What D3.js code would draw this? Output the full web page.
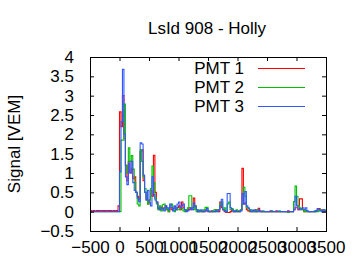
<!DOCTYPE html>
<html>
<head>
<meta charset="utf-8">
<script src="https://cdn.jsdelivr.net/npm/d3@7"></script>
<style>
  body { margin: 0; background: #fff; }
  text { font-family: 'Liberation Sans', Arial, sans-serif; fill: #000; }
</style>
</head>
<body>
<div id="chart"></div>
<script>
// trace bins, 25 ns wide, starting at -500 ns
const binStart = -500;
const binWidth = 25;

// PMT 1, one row per 500 ns
const pmt1 = [
  0.03, 0.01, 0.03, 0.01, 0.03, 0.02, 0.03, 0.01, 0.03, 0.02, 0.03, 0.01, 0.03, 0.02, 0.03, 0.01, 0.03, 0.02, 0.03, 0.15,
  2.58, 2.2, 3.0, 1.9, 1.2, 0.8, 1.3, 1.0, 1.1, 0.85, 0.9, 0.5, 0.4, 0.3, 1.55, 1.6, 0.8, 0.5, 0.3, 0.2,
  0.3, 0.55, 0.4, 1.46, 0.5, 0.25, 0.08, 0.05, 0.12, 0.05, 0.1, 0.15, 0.05, 0.0, 0.1, 0.05, 0.08, 0.12, 0.05, 0.1,
  0.15, 0.05, 0.25, 0.1, 0.05, 0.03, 0.05, 0.1, 0.05, 0.1, 0.35, 0.15, 0.05, 0.0, 0.03, 0.0, 0.02, 0.0, 0.05, 0.02,
  0.0, 0.0, 0.02, 0.0, 0.0, 0.05, 0.02, 0.0, 0.25, 0.1, 0.05, 0.0, -0.02, -0.02, -0.02, 0.0, 0.05, 0.0, 0.0, 0.03,
  0.0, 0.02, 0.05, 1.12, 0.2, 0.22, 0.05, 0.02, 0.0, 0.0, 0.02, 0.0, 0.05, 0.0, 0.09, 0.02, 0.0, 0.0, 0.0, 0.0,
  0.0, 0.0, 0.02, 0.0, 0.0, 0.0, 0.02, 0.0, 0.0, 0.0, 0.0, 0.0, 0.0, 0.0, 0.02, 0.0, 0.0, 0.0, 0.05, 0.1,
  0.1, 0.05, 0.33, 0.33, 0.05, 0.0, 0.02, 0.0, 0.0, 0.0, 0.0, 0.0, 0.0, 0.02, 0.05, 0.08, 0.03, 0.05, 0.0, 0.02,
];

// PMT 2
const pmt2 = [
  0.0, 0.0, 0.0, 0.0, 0.0, 0.0, 0.0, 0.0, 0.0, 0.0, 0.0, 0.0, 0.0, 0.0, 0.0, 0.0, 0.0, 0.0, 0.0, 0.0,
  0.0, 1.85, 1.85, 2.78, 1.2, 1.0, 1.65, 1.3, 1.45, 1.1, 0.75, 0.5, 0.2, 0.15, 1.6, 1.3, 0.9, 0.6, 0.35, 0.2,
  0.3, 0.6, 1.18, 0.75, 0.35, 0.2, 0.05, 0.15, 0.02, 0.18, 0.2, 0.05, 0.1, 0.0, 0.15, 0.2, 0.05, 0.0, 0.1, 0.05,
  0.05, 0.1, 0.08, 0.02, 0.0, 0.05, 0.1, 0.41, 0.41, 0.1, 0.05, 0.15, 0.0, 0.05, 0.0, 0.02, 0.0, 0.05, 0.11, 0.11,
  0.02, 0.0, 0.0, 0.02, 0.05, 0.0, 0.05, 0.05, 0.2, 0.25, 0.05, 0.1, 0.0, 0.2, 0.25, 0.05, 0.08, 0.02, 0.0, 0.05,
  0.02, 0.0, 0.05, 0.2, 0.63, 0.4, 0.1, 0.08, 0.02, 0.05, 0.0, 0.02, 0.0, 0.05, 0.02, 0.0, 0.0, 0.02, 0.0, 0.0,
  0.0, 0.0, 0.0, 0.02, 0.0, 0.0, 0.0, 0.0, 0.02, 0.0, 0.0, 0.0, 0.0, 0.0, -0.02, 0.0, 0.0, 0.0, 0.26, 0.66,
  0.4, 0.15, 0.1, 0.05, 0.05, 0.0, 0.02, 0.0, 0.0, 0.0, 0.0, 0.0, 0.02, 0.0, 0.0, 0.02, 0.05, 0.0, 0.02, 0.05,
];

// PMT 3
const pmt3 = [
  0.0, 0.0, 0.0, 0.0, 0.0, 0.0, 0.0, 0.0, 0.0, 0.0, 0.0, 0.0, 0.0, 0.0, 0.0, 0.0, 0.0, 0.0, 0.0, 0.0,
  1.03, 2.33, 3.68, 2.0, 0.9, 0.7, 1.25, 1.0, 1.3, 0.75, 0.55, 0.5, 0.35, 0.25, 1.78, 1.75, 0.95, 0.5, 0.3, 0.55,
  0.25, 0.15, 0.9, 0.45, 0.3, 0.25, 0.1, 0.05, 0.1, 0.08, 0.02, 0.15, 0.1, 0.05, 0.2, 0.1, 0.02, 0.15, 0.05, 0.2,
  0.25, 0.1, 0.15, 0.2, 0.05, 0.0, 0.02, 0.05, 0.1, 0.05, 0.22, 0.12, 0.05, 0.0, 0.02, 0.05, 0.0, 0.0, 0.02, 0.08,
  0.0, 0.0, 0.0, 0.0, 0.0, 0.02, 0.0, 0.05, 0.15, 0.32, 0.05, 0.02, 0.0, 0.47, 0.47, 0.1, 0.05, 0.0, 0.02, 0.0,
  0.0, 0.0, 0.02, 0.47, 0.2, 0.52, 0.15, 0.1, 0.05, 0.0, 0.02, 0.05, 0.0, 0.0, 0.05, 0.0, 0.0, 0.0, 0.0, 0.0,
  0.0, 0.0, 0.0, 0.0, 0.0, 0.0, 0.0, 0.0, 0.0, 0.0, 0.0, 0.0, 0.0, 0.0, 0.0, 0.0, 0.0, 0.0, 0.05, 0.4,
  0.15, 0.05, 0.05, 0.08, 0.1, 0.05, 0.1, 0.02, 0.0, 0.0, 0.0, 0.0, 0.0, 0.02, 0.08, 0.05, 0.02, 0.0, 0.05, 0.0,
];

const seriesNames = ['PMT 1', 'PMT 2', 'PMT 3'];
const seriesColors = ['#ff0000', '#00c000', '#3058ff'];
const xTicks = [-500, 0, 500, 1000, 1500, 2000, 2500, 3000, 3500];
const yTicks = [-0.5, 0, 0.5, 1, 1.5, 2, 2.5, 3, 3.5, 4];
const title = 'LsId 908 - Holly';
const yTitle = 'Signal [VEM]';

const width = 360;
const height = 270;
const margin = { top: 57, right: 34, bottom: 39, left: 90 };

const svg = d3.select('#chart').append('svg')
  .attr('width', width)
  .attr('height', height);

const x = d3.scaleLinear().domain([-500, 3500]).range([margin.left, width - margin.right]);
const y = d3.scaleLinear().domain([-0.5, 4]).range([height - margin.bottom, margin.top]);

svg.append('clipPath').attr('id', 'plotClip')
  .append('rect')
  .attr('x', margin.left).attr('y', margin.top)
  .attr('width', x.range()[1] - x.range()[0])
  .attr('height', y.range()[0] - y.range()[1]);

// step traces, last point repeated so the final bin gets its width
const toPoints = (vals) => {
  const pts = vals.map((v, i) => [binStart + i * binWidth, v]);
  pts.push([binStart + vals.length * binWidth, vals[vals.length - 1]]);
  return pts;
};

const line = d3.line()
  .x(d => x(d[0]))
  .y(d => y(d[1]))
  .curve(d3.curveStepAfter);

const plot = svg.append('g').attr('clip-path', 'url(#plotClip)');
[pmt1, pmt2, pmt3].forEach((vals, i) => {
  plot.append('path')
    .attr('d', line(toPoints(vals)))
    .attr('fill', 'none')
    .attr('stroke', seriesColors[i])
    .attr('stroke-width', 1.1);
});

// axes, ticks inward and mirrored like gnuplot
const tickLen = 4;
const bottomAxis = d3.axisBottom(x).tickValues(xTicks).tickSizeInner(-tickLen).tickSizeOuter(0).tickPadding(10)
  .tickFormat(d3.format('d'));
const topAxis = d3.axisTop(x).tickValues(xTicks).tickSizeInner(-tickLen).tickSizeOuter(0).tickFormat('');
const leftAxis = d3.axisLeft(y).tickValues(yTicks).tickSizeInner(-tickLen).tickSizeOuter(0).tickPadding(16)
  .tickFormat(d3.format('~g'));
const rightAxis = d3.axisRight(y).tickValues(yTicks).tickSizeInner(-tickLen).tickSizeOuter(0).tickFormat('');

const gb = svg.append('g').attr('transform', `translate(0,${y.range()[0]})`).call(bottomAxis);
svg.append('g').attr('transform', `translate(0,${y.range()[1]})`).call(topAxis);
const gl = svg.append('g').attr('transform', `translate(${x.range()[0]},0)`).call(leftAxis);
svg.append('g').attr('transform', `translate(${x.range()[1]},0)`).call(rightAxis);

svg.selectAll('.domain').remove();
svg.selectAll('.tick line').attr('stroke', '#000');
gb.selectAll('.tick text').style('font-size', '17px').attr('fill', '#000');
gl.selectAll('.tick text').style('font-size', '17px').attr('fill', '#000');

svg.append('rect')
  .attr('x', x.range()[0] + 0.5).attr('y', y.range()[1] + 0.5)
  .attr('width', x.range()[1] - x.range()[0])
  .attr('height', y.range()[0] - y.range()[1])
  .attr('fill', 'none')
  .attr('stroke', '#000');

svg.append('text')
  .attr('x', 207).attr('y', 34)
  .attr('text-anchor', 'middle')
  .style('font-size', '17px')
  .text(title);

svg.append('text')
  .attr('transform', `translate(20,${(y.range()[0] + y.range()[1]) / 2}) rotate(-90)`)
  .attr('text-anchor', 'middle')
  .style('font-size', '17px')
  .text(yTitle);

// legend
const legend = svg.append('g');
seriesNames.forEach((name, i) => {
  const ly = 68 + i * 19;
  legend.append('text')
    .attr('x', 244).attr('y', ly)
    .attr('dy', '0.35em')
    .attr('text-anchor', 'end')
    .style('font-size', '17px')
    .text(name);
  legend.append('line')
    .attr('x1', 258).attr('x2', 305)
    .attr('y1', ly + 0.5).attr('y2', ly + 0.5)
    .attr('stroke', seriesColors[i])
    .attr('stroke-width', 1.1);
});
</script>
</body>
</html>
